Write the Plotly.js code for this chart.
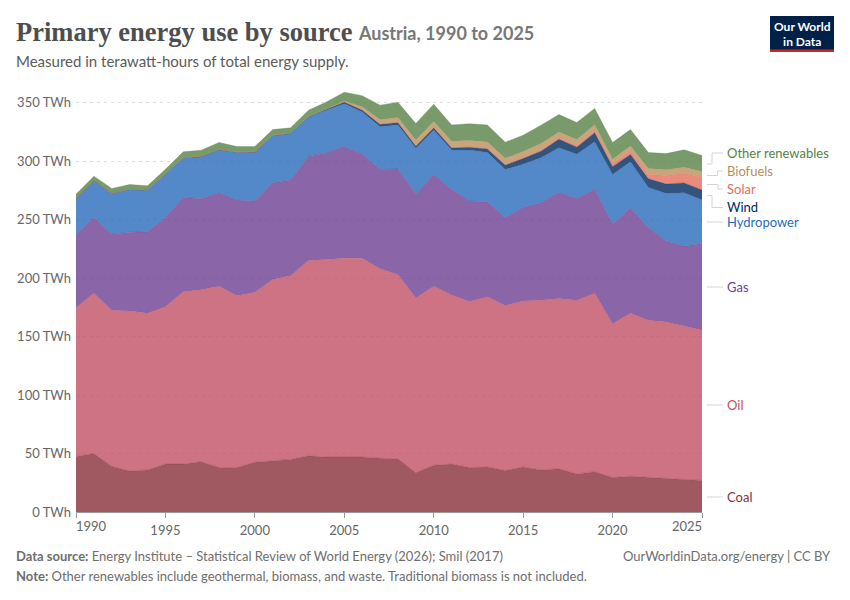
<!DOCTYPE html>
<html><head><meta charset="utf-8">
<script src="https://cdn.plot.ly/plotly-3.0.1.min.js"></script>
<style>html,body{margin:0;padding:0;background:#fff}#c{width:850px;height:600px}</style>
</head><body><div id="c"></div>
<script>
const years=[1990,1991,1992,1993,1994,1995,1996,1997,1998,1999,2000,2001,2002,2003,2004,2005,2006,2007,2008,2009,2010,2011,2012,2013,2014,2015,2016,2017,2018,2019,2020,2021,2022,2023,2024,2025];
const coal=[47.5,50,39,35,36,41,41,43,38,38,42.5,44,45,48,47,47,47,46,45.5,33.5,40,41,38,38.5,35.5,38.5,36,37,32.5,34.5,29.5,30.5,29.5,28.5,27.5,27];
const oil=[127.1,137,133.6,136.8,134,134.6,147.3,147,155,147,145.5,154.8,157,167,169,170,170,162,157.5,149.5,153,144.5,142,145.5,141,142,145,145.5,148.5,152.5,131.5,139.5,134.5,134,131.5,128.5];
const gas=[62.4,65,65,67.5,69.6,76.4,80.7,77.8,80,81.7,78,82.7,82,89.3,91,95.5,89,85,90.4,88.8,95.9,90.3,86,81.2,75.1,79.9,83.4,90.7,87,88.8,85,90,79.3,69,68.4,74.1];
const hydro=[31,31,34.8,36.5,35.6,37.4,34,36.2,36.7,41,41.7,40.4,39.6,33.6,36.3,36.7,36,36.5,37.6,39.2,37.6,33.7,43.5,42.3,41.3,37,38.6,38.2,38,40.7,42.6,39.4,34.2,40.9,45.5,37.1];
const wind=[0,0,0,0,0,0,0,0,0,0,0.1,0.1,0.2,0.4,0.9,1.3,1.7,2,2,2,2,1.9,2.4,3,3.7,4.8,5.5,7.3,6,7.8,6.7,6.2,7.4,8,8.5,8.6];
const solar=[0,0,0,0,0,0,0,0,0,0,0,0,0,0,0,0,0,0,0,0,0.1,0.2,0.3,0.6,0.9,1,1.1,1.3,1.5,1.8,2.2,3,3.9,7.3,8.2,10.8];
const biofuels=[0.1,0.1,0.1,0.1,0.1,0.2,0.3,0.3,0.3,0.3,0.3,0.3,0.3,0.3,0.5,1,2.8,4,4.4,5,5.4,5.5,5.5,5.3,5,5,5.5,5,5,5,4.2,4.4,5,5,5.3,5];
const other=[3.7,4.1,4.1,4.1,3.7,3.4,4.7,5.1,6,4.5,4.4,4.7,4.4,5,6,7.5,9.5,12.4,13,14.2,14.7,13.9,14.3,14.6,13.7,14,15.7,14.9,14.5,13.9,14.2,14,13.6,13.8,14.8,13.8];
const names=["Coal","Oil","Gas","Hydropower","Wind","Solar","Biofuels","Other renewables"];
const colors=["#883039","#C15065","#6D3E91","#286BBB","#00295B","#E56E5A","#BC8E5A","#578145"];
const series=[coal,oil,gas,hydro,wind,solar,biofuels,other];
const yTicks=[0,50,100,150,200,250,300,350];
const yTickText=["0 TWh","50 TWh","100 TWh","150 TWh","200 TWh","250 TWh","300 TWh","350 TWh"];
const xTicks=[1990,1995,2000,2005,2010,2015,2020,2025];

const W=850,H=600,L=76,R=702,T=91,B=512;
const px=x=>(x-L)/(R-L), py=y=>(B-y)/(B-T);
const FONT="Lato, sans-serif";
function rgba(h,a){const n=parseInt(h.slice(1),16);return `rgba(${n>>16},${(n>>8)&255},${n&255},${a})`;}
const traces=series.map((v,i)=>({x:years,y:v,name:names[i],type:"scatter",mode:"lines",stackgroup:"one",
  fillcolor:rgba(colors[i],0.8),line:{color:rgba(colors[i],0.6),width:0.5},hoverinfo:"skip",showlegend:false}));

const note=(text,x,y,size,color,anchor,extra)=>{
  const a=anchor||"left";
  const shift=a==="left"?-2:(a==="right"?2:0);
  return Object.assign({text,xref:"paper",yref:"paper",x:px(x),y:py(y),xshift:shift,
  xanchor:a,yanchor:"middle",showarrow:false,align:a==="right"?"right":"left",
  font:{family:FONT,size,color}},extra||{});
};

const labels=[["Other renewables",153,7],["Biofuels",171,6],["Solar",189,5],["Wind",207,4],["Hydropower",222,3],["Gas",287,2],["Oil",405,1],["Coal",497,0]];
const annotations=labels.map(l=>note(l[0],727.5,l[1],13,colors[l[2]]));
annotations.push(note("<b>Austria, 1990 to 2025</b>",358,33,18,"#777777"));
annotations.push(note("Measured in terawatt-hours of total energy supply.",16,61,15,"#5b5b5b"));
annotations.push(note("<b>Data source:</b> Energy Institute – Statistical Review of World Energy (2026); Smil (2017)",16,556,13,"#6e6e6e"));
annotations.push(note("<b>Note:</b> Other renewables include geothermal, biomass, and waste. Traditional biomass is not included.",16,576,13,"#6e6e6e"));
annotations.push(note("OurWorldinData.org/energy | CC BY",830.5,556,13,"#6e6e6e","right"));
annotations.push(note("<b>Our World<br>in Data</b>",802,34,12,"#ffffff","center",{align:"center",name:"logo"}));
annotations.push(note("1990",76,526,13,"#666666","left"));
annotations.push(note("2025",702,526,13,"#666666","right"));

const seg=pts=>({type:"path",xref:"paper",yref:"paper",layer:"above",
  path:"M"+pts.map(p=>px(p[0])+","+py(p[1])).join("L"),line:{color:"#d5d5d5",width:1}});
const shapes=[
 seg([[707,164],[712,164],[712,153],[723,153]]),
 seg([[707,175.5],[717.5,175.5],[717.5,171],[723,171]]),
 seg([[707,184.5],[718,184.5],[718,189],[723,189]]),
 seg([[707,195.5],[712,195.5],[712,207.5],[723,207.5]]),
 seg([[707,222],[723,222]]),
 seg([[707,287],[723,287]]),
 seg([[707,405],[723,405]]),
 seg([[707,497],[723,497]]),
 {type:"rect",xref:"paper",yref:"paper",x0:px(770),x1:px(834),y0:py(16),y1:py(52),fillcolor:"#002147",line:{width:0},layer:"above"},
 {type:"rect",xref:"paper",yref:"paper",x0:px(770),x1:px(834),y0:py(49.5),y1:py(52),fillcolor:"#CE261E",line:{width:0},layer:"above"}
];

Plotly.newPlot("c",traces,{
  width:W,height:H,paper_bgcolor:"#fff",plot_bgcolor:"#fff",
  margin:{l:L,r:W-R,t:T,b:H-B,pad:0},
  title:{text:"<b>Primary energy use by source</b>",x:16/W,xanchor:"left",y:1-32/H,yanchor:"middle",
    font:{family:"'Liberation Serif', serif",size:26.5,color:"#4e4e4e"}},
  xaxis:{range:[1990,2025],tickmode:"array",tickvals:xTicks,ticktext:xTicks.map(t=>(t===1990||t===2025)?"":String(t)),
    ticks:"outside",ticklen:5,tickcolor:"#999",tickwidth:1,showline:true,linecolor:"#999",linewidth:1,showgrid:false,zeroline:false,
    ticklabelstandoff:1,tickfont:{family:FONT,size:13,color:"#666"},fixedrange:true},
  yaxis:{range:[0,360],tickmode:"array",tickvals:yTicks,ticktext:yTickText,ticks:"",showline:false,zeroline:false,
    showgrid:true,gridcolor:"#dddddd",griddash:"3px,4px",gridwidth:1,ticklabelstandoff:4,
    tickfont:{family:FONT,size:13,color:"#666"},fixedrange:true},
  annotations,shapes,showlegend:false
},{staticPlot:true,displayModeBar:false}).then(()=>{
  // tighten the logo's two lines towards the reference's line spacing
  document.querySelectorAll(".annotation-text tspan.line").forEach(t=>{
    if(t.textContent==="in Data") t.setAttribute("dy","1.22em");
  });
});
</script></body></html>
